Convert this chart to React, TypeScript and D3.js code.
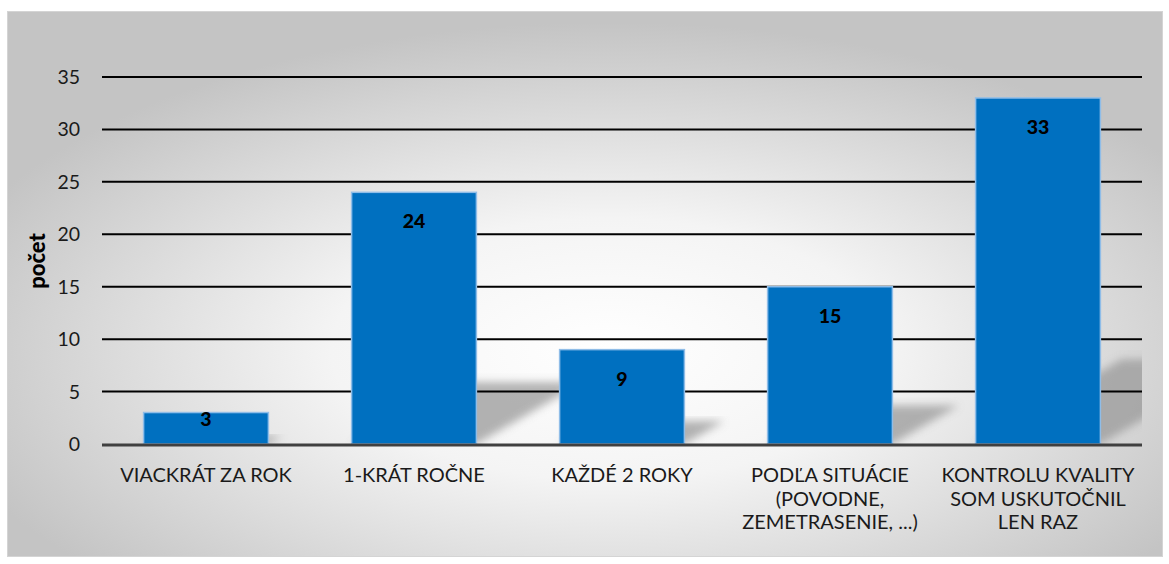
import React from "react";
import * as d3 from "d3";

const categories: string[][] = [
  ["VIACKRÁT ZA ROK"],
  ["1-KRÁT ROČNE"],
  ["KAŽDÉ 2 ROKY"],
  ["PODĽA SITUÁCIE", "(POVODNE,", "ZEMETRASENIE, ...)"],
  ["KONTROLU KVALITY", "SOM USKUTOČNIL", "LEN RAZ"],
];
const values: number[] = [3, 24, 9, 15, 33];
const yTicks: number[] = [0, 5, 10, 15, 20, 25, 30, 35];
const yTitle = "počet";

const W = 1169;
const H = 564;
const FONT = "Lato, 'Open Sans', sans-serif";

export default function App() {
  const left = 102, right = 1142, top = 77, bottom = 444;
  const x = d3.scaleBand<number>().domain(values.map((_, i) => i)).range([left, right]).paddingInner(0.4).paddingOuter(0.2);
  const y = d3.scaleLinear().domain([0, 35]).range([bottom, top]);
  const bw = x.bandwidth();

  return (
    <svg width={W} height={H} style={{ position: "absolute", left: 0, top: 0 }}>
      <defs>
        <radialGradient id="bg" cx="0.52" cy="0.62" r="0.6" fx="0.52" fy="0.62">
          <stop offset="0" stopColor="#ffffff" />
          <stop offset="0.4" stopColor="#f4f4f4" />
          <stop offset="1" stopColor="#c4c4c4" />
        </radialGradient>
        <clipPath id="plotclip">
          <rect x={left} y={top - 20} width={right - left} height={bottom - top + 20} />
        </clipPath>
        <filter id="blur" x="-20%" y="-20%" width="140%" height="140%">
          <feGaussianBlur stdDeviation="4" />
        </filter>
      </defs>
      <rect x={7.5} y={11.5} width={1155} height={545} fill="url(#bg)" stroke="#d4d4d4" strokeWidth={1} />

      {/* shadows */}
      <g clipPath="url(#plotclip)">
        {values.map((v, i) => {
          const x0 = x(i)!;
          const h = bottom - y(v);
          const dy = h * 0.245;
          const dx = dy / 0.58;
          const pts = [
            [x0, bottom],
            [x0 + bw, bottom],
            [x0 + bw + dx, bottom - dy],
            [x0 + dx, bottom - dy],
          ];
          return (
            <polygon
              key={"s" + i}
              points={pts.map((p) => p.join(",")).join(" ")}
              fill="#9a9a9a"
              opacity={0.75}
              filter="url(#blur)"
            />
          );
        })}
      </g>

      {/* gridlines */}
      {yTicks.filter((t) => t > 0).map((t) => (
        <line key={"g" + t} x1={left} x2={right} y1={y(t)} y2={y(t)} stroke="#000" strokeWidth={2} />
      ))}

      {/* y tick labels */}
      {yTicks.map((t) => (
        <text key={"t" + t} x={80} y={y(t)} dy="0.36em" textAnchor="end" fontFamily={FONT} fontSize={19.5} fill="#1a1a1a">
          {t}
        </text>
      ))}

      {/* bars */}
      {values.map((v, i) => (
        <rect
          key={"b" + i}
          x={x(i)!}
          y={y(v)}
          width={bw}
          height={bottom - y(v)}
          fill="#0070C0"
          stroke="#8fbde8"
          strokeWidth={1.5}
        />
      ))}

      {/* baseline */}
      <line x1={left} x2={right} y1={bottom + 1} y2={bottom + 1} stroke="#404040" strokeWidth={3} />

      {/* value labels */}
      {values.map((v, i) => {
        const h = bottom - y(v);
        const cy = y(v) + Math.min(29, h / 2 - 9);
        return (
          <text key={"v" + i} x={x(i)! + bw / 2} y={cy} dy="0.36em" textAnchor="middle" fontFamily={FONT} fontWeight={900} fontSize={19.5} fill="#000">
            {v}
          </text>
        );
      })}

      {/* category labels */}
      {categories.map((lines, i) => (
        <text key={"c" + i} x={x(i)! + bw / 2} y={482} textAnchor="middle" fontFamily={FONT} fontSize={20} fill="#1a1a1a">
          {lines.map((l, j) => (
            <tspan key={j} x={x(i)! + bw / 2} dy={j === 0 ? 0 : 23.5}>
              {l}
            </tspan>
          ))}
        </text>
      ))}

      {/* y title */}
      <text transform={`translate(45, 261) rotate(-90)`} textAnchor="middle" fontFamily={FONT} fontWeight={900} fontSize={22} fill="#000">
        {yTitle}
      </text>
    </svg>
  );
}
